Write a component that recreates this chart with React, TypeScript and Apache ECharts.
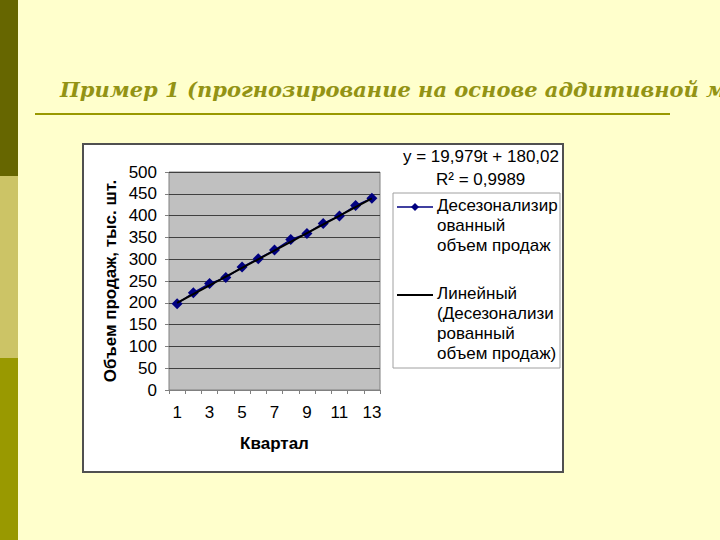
import React, { useEffect, useRef } from "react";
import * as echarts from "echarts";

const quarters = ["1", "2", "3", "4", "5", "6", "7", "8", "9", "10", "11", "12", "13"];
const sales = [198, 223, 244, 258, 282, 301, 321, 345, 359, 382, 399, 423, 440];
// linear trend y = 19,979t + 180,02 evaluated at first and last quarter
const trend: (number | null)[] = [200.0, null, null, null, null, null, null, null, null, null, null, null, 439.75];
const yMin = 0;
const yMax = 500;
const yStep = 50;

const titleText = "Пример 1 (прогнозирование на основе аддитивной модели)";
const yName = "Объем продаж, тыс. шт.";
const xName = "Квартал";
const equation = "y = 19,979t + 180,02";
const rSquared = "R² = 0,9989";
const legendSeries = ["Десезонализир", "ованный", "объем продаж"];
const legendTrend = ["Линейный", "(Десезонализи", "рованный", "объем продаж)"];

const FONT = "'Liberation Sans', Arial, sans-serif";
const FS = 17;

export default function App() {
  const ref = useRef<HTMLDivElement>(null);
  useEffect(() => {
    if (!ref.current) return;
    const chart = echarts.init(ref.current, undefined, { renderer: "svg" });
    const textStyle = { fontFamily: FONT, fontSize: FS, fill: "#000" };
    const legendTexts: any[] = [];
    legendSeries.forEach((t, i) =>
      legendTexts.push({
        type: "text",
        left: 437,
        top: 197 + i * 20,
        style: { ...textStyle, text: t },
      })
    );
    legendTrend.forEach((t, i) =>
      legendTexts.push({
        type: "text",
        left: 437,
        top: 285 + i * 20,
        style: { ...textStyle, text: t },
      })
    );
    chart.setOption({
      animation: false,
      backgroundColor: "#FFFFCC",
      graphic: [
        { type: "rect", shape: { x: 0, y: 0, width: 18, height: 176 }, style: { fill: "#666600" } },
        { type: "rect", shape: { x: 0, y: 176, width: 18, height: 182 }, style: { fill: "#CCC466" } },
        { type: "rect", shape: { x: 0, y: 358, width: 18, height: 182 }, style: { fill: "#999900" } },
        {
          type: "text",
          x: 60,
          y: 79,
          style: {
            text: titleText,
            fontFamily: "'DejaVu Serif', 'Liberation Serif', serif",
            fontStyle: "italic",
            fontWeight: "bold",
            fontSize: 21,
            fill: "#939314",
          },
        },
        { type: "line", shape: { x1: 35, y1: 114, x2: 670, y2: 114 }, style: { stroke: "#999900", lineWidth: 2 } },
        {
          type: "rect",
          z: -10,
          shape: { x: 83, y: 144, width: 480, height: 328 },
          style: { fill: "#FFFFFF", stroke: "#505050", lineWidth: 2 },
        },
        {
          type: "text",
          left: 403,
          top: 148,
          style: { ...textStyle, text: equation },
        },
        {
          type: "text",
          left: 436,
          top: 171,
          style: { ...textStyle, text: rSquared },
        },
        {
          type: "rect",
          shape: { x: 393, y: 193, width: 167, height: 175 },
          style: { fill: "#FFFFFF", stroke: "#A0A0A0", lineWidth: 1 },
        },
        { type: "line", shape: { x1: 397, y1: 207, x2: 433, y2: 207 }, style: { stroke: "#000080", lineWidth: 1.5 } },
        {
          type: "polygon",
          shape: { points: [[415, 203], [419, 207], [415, 211], [411, 207]] },
          style: { fill: "#000080" },
        },
        { type: "line", shape: { x1: 397, y1: 295, x2: 433, y2: 295 }, style: { stroke: "#000000", lineWidth: 2 } },
        ...legendTexts,
      ],
      grid: {
        left: 169,
        top: 172,
        width: 211,
        height: 218,
        show: true,
        backgroundColor: "#C0C0C0",
        borderColor: "#808080",
        borderWidth: 1,
      },
      xAxis: {
        type: "category",
        data: quarters,
        boundaryGap: true,
        name: xName,
        nameLocation: "middle",
        nameGap: 45,
        nameTextStyle: { fontFamily: FONT, fontSize: FS, fontWeight: "bold", color: "#000" },
        axisLine: { show: true, lineStyle: { color: "#808080", width: 1 } },
        axisTick: { show: true, interval: 0, length: 4, lineStyle: { color: "#808080" } },
        axisLabel: { interval: 1, margin: 14, fontFamily: FONT, fontSize: FS, color: "#000" },
        splitLine: { show: false },
      },
      yAxis: {
        type: "value",
        min: yMin,
        max: yMax,
        interval: yStep,
        name: yName,
        nameLocation: "middle",
        nameGap: 50,
        nameTextStyle: { fontFamily: FONT, fontSize: FS, fontWeight: "bold", color: "#000" },
        axisLine: { show: false },
        axisTick: { show: true, length: 4, lineStyle: { color: "#808080" } },
        axisLabel: { margin: 12, fontFamily: FONT, fontSize: FS, color: "#000" },
        splitLine: { show: true, lineStyle: { color: "#404040", width: 1 } },
      },
      series: [
        {
          name: "sales",
          type: "line",
          data: sales,
          symbol: "diamond",
          symbolSize: 11,
          showSymbol: true,
          showAllSymbol: true,
          itemStyle: { color: "#000080" },
          lineStyle: { color: "#000080", width: 1.5 },
          z: 2,
        },
        {
          name: "trend",
          type: "line",
          data: trend,
          connectNulls: true,
          showSymbol: false,
          symbol: "none",
          lineStyle: { color: "#000000", width: 2 },
          z: 3,
        },
      ],
    });
    return () => chart.dispose();
  }, []);
  return (
    <div
      ref={ref}
      style={{ position: "fixed", left: 0, top: 0, width: 720, height: 540 }}
    />
  );
}
